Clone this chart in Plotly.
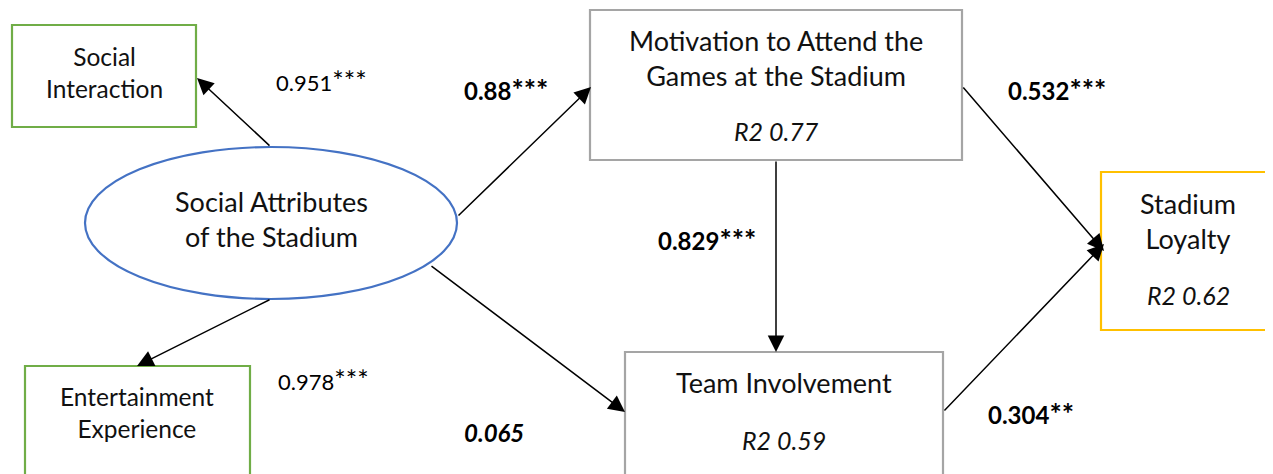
import plotly.graph_objects as go

# ---------------- data ----------------
constructs = [
    "Social Attributes<br>of the Stadium",
    "Social<br>Interaction",
    "Entertainment<br>Experience",
    "Motivation to Attend the<br>Games at the Stadium",
    "Team Involvement",
    "Stadium<br>Loyalty",
]
r2_values = [None, None, None, 0.77, 0.59, 0.62]

path_from = [0, 0, 0, 0, 3, 3, 4]
path_to = [1, 2, 3, 4, 4, 5, 5]
path_coef = ["0.951", "0.978", "0.88", "0.065", "0.829", "0.532", "0.304"]
path_sig = ["***", "***", "***", "", "***", "***", "**"]
path_kind = ["loading", "loading", "structural", "structural", "structural", "structural", "structural"]

# ---------------- layout (positions / styles) ----------------
W, H = 1273, 474
OFF = 8  # page body margin compensation
FONT = "Lato"

nodes = [
    dict(shape="circle", x0=85, y0=147, x1=457, y1=299, color="#4472C4", cx=271, ly=219, fs=27, ry=None, open=""),
    dict(shape="rect", x0=12, y0=25, x1=196, y1=127, color="#70AD47", cx=104, ly=72, fs=24.5, ry=None, open=""),
    dict(shape="rect", x0=25, y0=366, x1=250, y1=495, color="#70AD47", cx=137, ly=412, fs=24.5, ry=None, open="b"),
    dict(shape="rect", x0=590, y0=10, x1=962, y1=160, color="#A5A5A5", cx=776, ly=58, fs=27, ry=131, open=""),
    dict(shape="rect", x0=625, y0=352, x1=943, y1=495, color="#A5A5A5", cx=784, ly=382, fs=27, ry=440, open="b"),
    dict(shape="rect", x0=1101, y0=172, x1=1295, y1=330, color="#FFC000", cx=1188, ly=221, fs=27, ry=295, open="r"),
]

arrows = [
    dict(ax=271, ay=147, x=197, y=78, lx=321, ly=80),
    dict(ax=271, ay=299, x=137, y=366, lx=323, ly=379),
    dict(ax=457, ay=217, x=591, y=87, lx=506, ly=88),
    dict(ax=430, ay=265, x=625, y=412, lx=494, ly=432),
    dict(ax=776, ay=160, x=776, y=352, lx=707, ly=238),
    dict(ax=962, ay=86, x=1104, y=251, lx=1057, ly=88),
    dict(ax=943, ay=412, x=1104, y=244, lx=1031, ly=412),
]

fig = go.Figure()
fig.add_trace(go.Scatter(x=[0, W], y=[0, H], mode="markers",
                         marker=dict(opacity=0), hoverinfo="skip", showlegend=False))

for i, n in enumerate(nodes):
    line = dict(color=n["color"], width=2.2)
    x0, y0, x1, y1 = n["x0"], n["y0"], n["x1"], n["y1"]
    if n["open"] == "r":
        fig.add_shape(type="path", xref="x", yref="y",
                      path=f"M {x1},{y0} L {x0},{y0} L {x0},{y1} L {x1},{y1}",
                      line=line, layer="above")
    elif n["open"] == "b":
        fig.add_shape(type="path", xref="x", yref="y",
                      path=f"M {x0},{y1} L {x0},{y0} L {x1},{y0} L {x1},{y1}",
                      line=line, layer="above")
    else:
        fig.add_shape(type=n["shape"], xref="x", yref="y",
                      x0=x0, y0=y0, x1=x1, y1=y1,
                      line=line, fillcolor="rgba(0,0,0,0)", layer="above")
    fig.add_annotation(x=n["cx"], y=n["ly"], xref="x", yref="y", text=constructs[i],
                       showarrow=False, font=dict(family=FONT, size=n["fs"], color="#111111"),
                       xanchor="center", yanchor="middle", align="center")
    if r2_values[i] is not None:
        fig.add_annotation(x=n["cx"], y=n["ry"], xref="x", yref="y",
                           text="<i>R2 %.2f</i>" % r2_values[i],
                           showarrow=False, font=dict(family=FONT, size=n["fs"] - 2, color="#111111"),
                           xanchor="center", yanchor="middle")

for k, a in enumerate(arrows):
    fig.add_annotation(x=a["x"], y=a["y"], ax=a["ax"], ay=a["ay"],
                       xref="x", yref="y", axref="x", ayref="y",
                       showarrow=True, arrowhead=2, arrowsize=2.2, arrowwidth=1.5,
                       arrowcolor="#000000", standoff=0, startstandoff=0, text="")
    num = path_coef[k]
    stars = path_sig[k]
    if path_kind[k] == "loading":
        fs = 22
        label = num + '<span style="font-size:27px">' + stars + "</span>"
    elif stars == "":
        fs = 24
        label = "<b><i>" + num + "</i></b>"
    else:
        fs = 24
        label = "<b>" + num + '<span style="font-size:29px">' + stars + "</span></b>"
    fig.add_annotation(x=a["lx"], y=a["ly"], xref="x", yref="y", text=label,
                       showarrow=False, font=dict(family=FONT, size=fs, color="#000000"),
                       xanchor="center", yanchor="middle")

fig.update_layout(
    width=W - OFF, height=H - OFF,
    margin=dict(l=0, r=0, t=0, b=0),
    paper_bgcolor="white", plot_bgcolor="white",
    xaxis=dict(range=[OFF, W], visible=False, fixedrange=True),
    yaxis=dict(range=[H, OFF], visible=False, fixedrange=True),
    showlegend=False,
)

fig.write_html("out.html")
